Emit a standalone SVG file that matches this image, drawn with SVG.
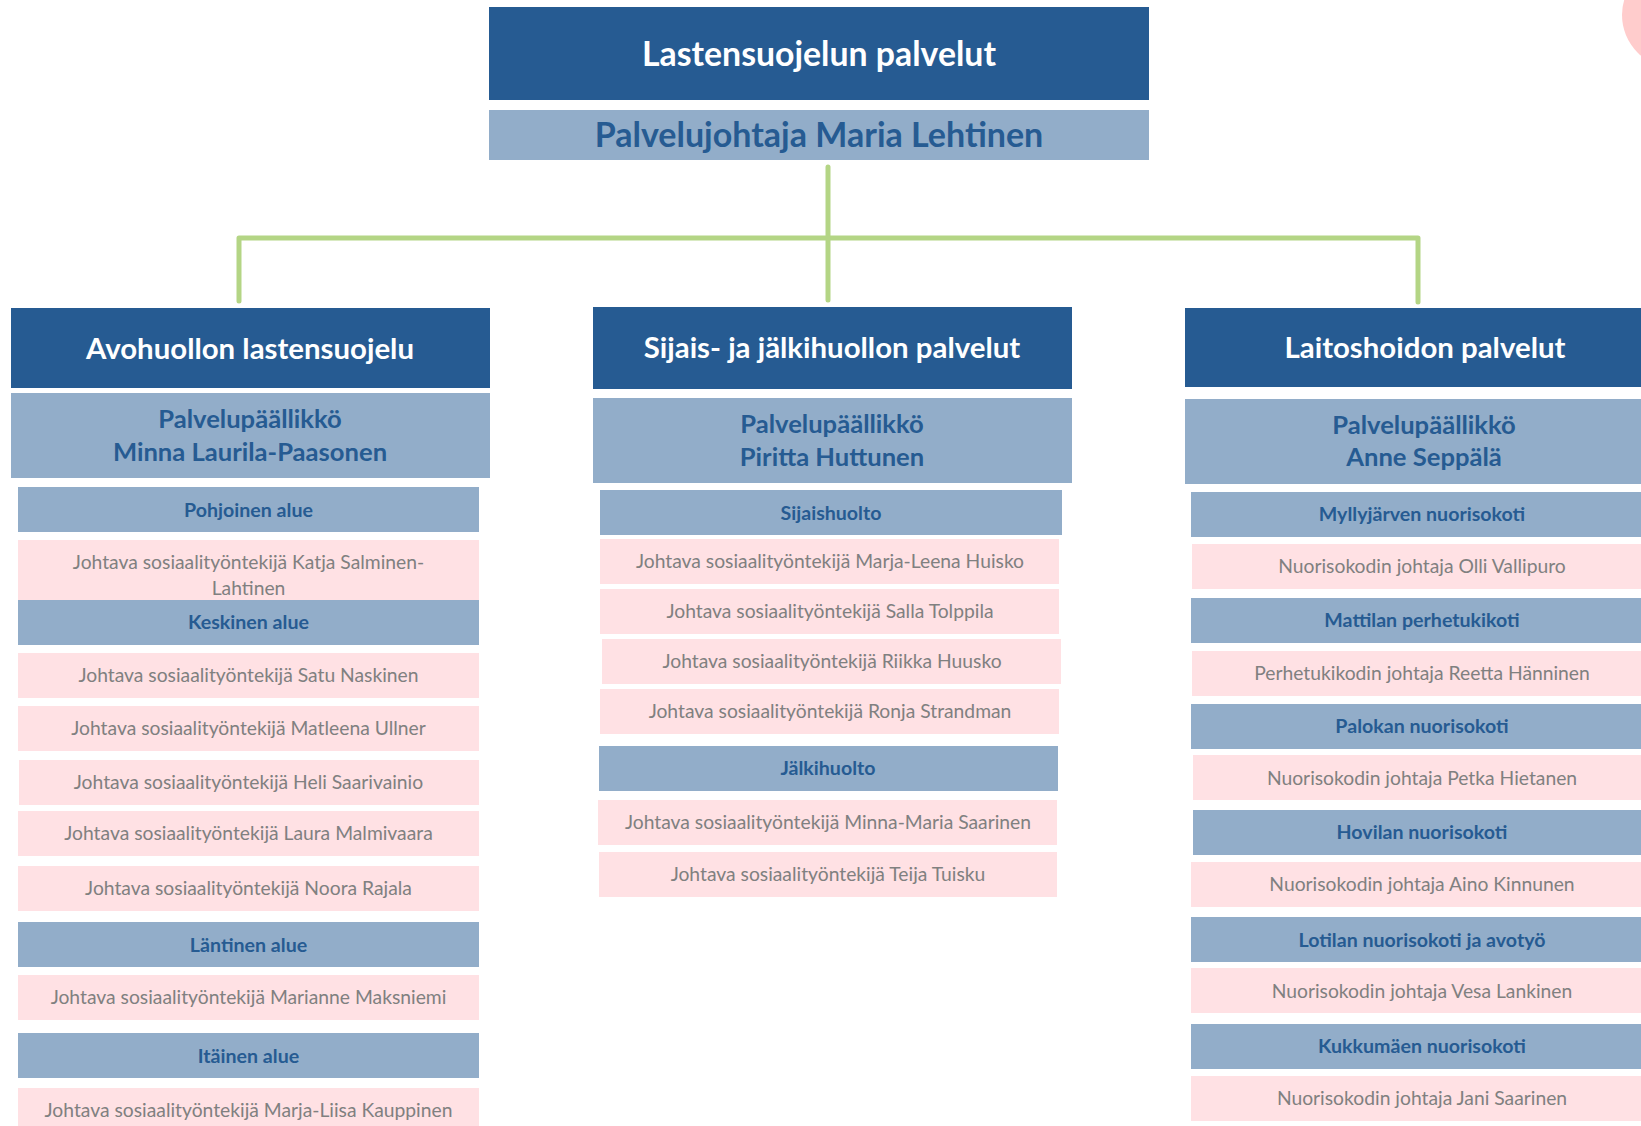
<svg xmlns="http://www.w3.org/2000/svg" width="1641" height="1126" viewBox="0 0 1641 1126">
<style>
.dk{fill:#265B92}
.lt{fill:#92ADC9}
.pk{fill:#FFE1E4}
text{font-family:Lato,"Open Sans","Liberation Sans",sans-serif;text-anchor:middle}
.t1{fill:#fff;font-weight:bold;font-size:33.8px}
.t2{fill:#265B92;font-weight:bold;font-size:34px}
.h{fill:#fff;font-weight:bold;font-size:29.4px}
.m{fill:#265B92;font-weight:bold;font-size:25.6px}
.s{fill:#265B92;font-weight:bold;font-size:19.6px}
.p{fill:#808080;font-size:19.3px}
.con{fill:none;stroke:#B4D585;stroke-width:5;stroke-linecap:round;stroke-linejoin:round}
</style>
<rect width="1641" height="1126" fill="#fff"/>
<circle cx="1675" cy="15" r="53" fill="#FFCCCC"/>
<g id="connectors">
<path class="con" d="M828 167V300"/>
<path class="con" d="M239 301V238H1418V302"/>
</g>
<g id="top">
<rect class="dk" x="489" y="7" width="660" height="93"/>
<text class="t1" x="819" y="66">Lastensuojelun palvelut</text>
<rect class="lt" x="489" y="110" width="660" height="50"/>
<text class="t2" x="819" y="147">Palvelujohtaja Maria Lehtinen</text>
</g>
<g id="avohuolto">
<rect class="dk" x="11" y="308" width="479" height="80"/>
<text class="h" x="250" y="359">Avohuollon lastensuojelu</text>
<rect class="lt" x="11" y="393" width="479" height="85"/>
<text class="m" x="250" y="428">Palvelupäällikkö</text>
<text class="m" x="250" y="461">Minna Laurila-Paasonen</text>
</g>
<g id="pohjoinen"><rect class="lt" x="18" y="487" width="461" height="45"/><text class="s" x="248.5" y="517">Pohjoinen alue</text></g>
<g id="katja"><rect class="pk" x="18" y="540" width="461" height="60"/><text class="p" x="248.5" y="569">Johtava sosiaalityöntekijä Katja Salminen-</text><text class="p" x="248.5" y="595">Lahtinen</text></g>
<g id="keskinen"><rect class="lt" x="18" y="600" width="461" height="45"/><text class="s" x="248.5" y="629">Keskinen alue</text></g>
<g id="satu"><rect class="pk" x="18" y="653" width="461" height="45"/><text class="p" x="248.5" y="682">Johtava sosiaalityöntekijä Satu Naskinen</text></g>
<g id="matleena"><rect class="pk" x="18" y="706" width="461" height="45"/><text class="p" x="248.5" y="735">Johtava sosiaalityöntekijä Matleena Ullner</text></g>
<g id="heli"><rect class="pk" x="19" y="760" width="460" height="45"/><text class="p" x="248.5" y="789">Johtava sosiaalityöntekijä Heli Saarivainio</text></g>
<g id="laura"><rect class="pk" x="18" y="811" width="461" height="45"/><text class="p" x="248.5" y="840">Johtava sosiaalityöntekijä Laura Malmivaara</text></g>
<g id="noora"><rect class="pk" x="18" y="866" width="461" height="45"/><text class="p" x="248.5" y="895">Johtava sosiaalityöntekijä Noora Rajala</text></g>
<g id="lantinen"><rect class="lt" x="18" y="922" width="461" height="45"/><text class="s" x="248.5" y="952">Läntinen alue</text></g>
<g id="marianne"><rect class="pk" x="18" y="975" width="461" height="45"/><text class="p" x="248.5" y="1004">Johtava sosiaalityöntekijä Marianne Maksniemi</text></g>
<g id="itainen"><rect class="lt" x="18" y="1033" width="461" height="45"/><text class="s" x="248.5" y="1063">Itäinen alue</text></g>
<g id="marjaliisa"><rect class="pk" x="18" y="1088" width="461" height="45"/><text class="p" x="248.5" y="1117">Johtava sosiaalityöntekijä Marja-Liisa Kauppinen</text></g>

<g id="sijais">
<rect class="dk" x="593" y="307" width="479" height="82"/>
<text class="h" x="832" y="358">Sijais- ja jälkihuollon palvelut</text>
<rect class="lt" x="593" y="398" width="479" height="85"/>
<text class="m" x="832" y="433">Palvelupäällikkö</text>
<text class="m" x="832" y="466">Piritta Huttunen</text>
</g>
<g id="sijaishuolto"><rect class="lt" x="600" y="490" width="462" height="45"/><text class="s" x="831" y="520">Sijaishuolto</text></g>
<g id="marjaleena"><rect class="pk" x="600" y="539" width="459" height="45"/><text class="p" x="830" y="568">Johtava sosiaalityöntekijä Marja-Leena Huisko</text></g>
<g id="salla"><rect class="pk" x="600" y="589" width="459" height="45"/><text class="p" x="830" y="618">Johtava sosiaalityöntekijä Salla Tolppila</text></g>
<g id="riikka"><rect class="pk" x="602" y="639" width="459" height="45"/><text class="p" x="832" y="668">Johtava sosiaalityöntekijä Riikka Huusko</text></g>
<g id="ronja"><rect class="pk" x="600" y="689" width="459" height="45"/><text class="p" x="830" y="718">Johtava sosiaalityöntekijä Ronja Strandman</text></g>
<g id="jalkihuolto"><rect class="lt" x="599" y="746" width="459" height="45"/><text class="s" x="828" y="775">Jälkihuolto</text></g>
<g id="minnamaria"><rect class="pk" x="598" y="800" width="459" height="45"/><text class="p" x="828" y="829">Johtava sosiaalityöntekijä Minna-Maria Saarinen</text></g>
<g id="teija"><rect class="pk" x="599" y="852" width="458" height="45"/><text class="p" x="828" y="881">Johtava sosiaalityöntekijä Teija Tuisku</text></g>

<g id="laitos">
<rect class="dk" x="1185" y="308" width="480" height="79"/>
<text class="h" x="1425" y="358">Laitoshoidon palvelut</text>
<rect class="lt" x="1185" y="399" width="480" height="85"/>
<text class="m" x="1424" y="434">Palvelupäällikkö</text>
<text class="m" x="1424" y="466">Anne Seppälä</text>
</g>
<g id="myllyjarvi"><rect class="lt" x="1191" y="492" width="462" height="45"/><text class="s" x="1422" y="521">Myllyjärven nuorisokoti</text></g>
<g id="olli"><rect class="pk" x="1192" y="544" width="462" height="45"/><text class="p" x="1422" y="573">Nuorisokodin johtaja Olli Vallipuro</text></g>
<g id="mattila"><rect class="lt" x="1191" y="598" width="462" height="45"/><text class="s" x="1422" y="627">Mattilan perhetukikoti</text></g>
<g id="reetta"><rect class="pk" x="1192" y="651" width="462" height="45"/><text class="p" x="1422" y="680">Perhetukikodin johtaja Reetta Hänninen</text></g>
<g id="palokka"><rect class="lt" x="1191" y="704" width="462" height="45"/><text class="s" x="1422" y="733">Palokan nuorisokoti</text></g>
<g id="petka"><rect class="pk" x="1193" y="755" width="462" height="45"/><text class="p" x="1422" y="785">Nuorisokodin johtaja Petka Hietanen</text></g>
<g id="hovila"><rect class="lt" x="1193" y="810" width="462" height="45"/><text class="s" x="1422" y="839">Hovilan nuorisokoti</text></g>
<g id="aino"><rect class="pk" x="1191" y="862" width="462" height="45"/><text class="p" x="1422" y="891">Nuorisokodin johtaja Aino Kinnunen</text></g>
<g id="lotila"><rect class="lt" x="1191" y="917" width="462" height="45"/><text class="s" x="1422" y="947">Lotilan nuorisokoti ja avotyö</text></g>
<g id="vesa"><rect class="pk" x="1191" y="968" width="462" height="45"/><text class="p" x="1422" y="998">Nuorisokodin johtaja Vesa Lankinen</text></g>
<g id="kukkumaki"><rect class="lt" x="1191" y="1024" width="462" height="45"/><text class="s" x="1422" y="1053">Kukkumäen nuorisokoti</text></g>
<g id="jani"><rect class="pk" x="1191" y="1076" width="462" height="45"/><text class="p" x="1422" y="1105">Nuorisokodin johtaja Jani Saarinen</text></g>
</svg>
